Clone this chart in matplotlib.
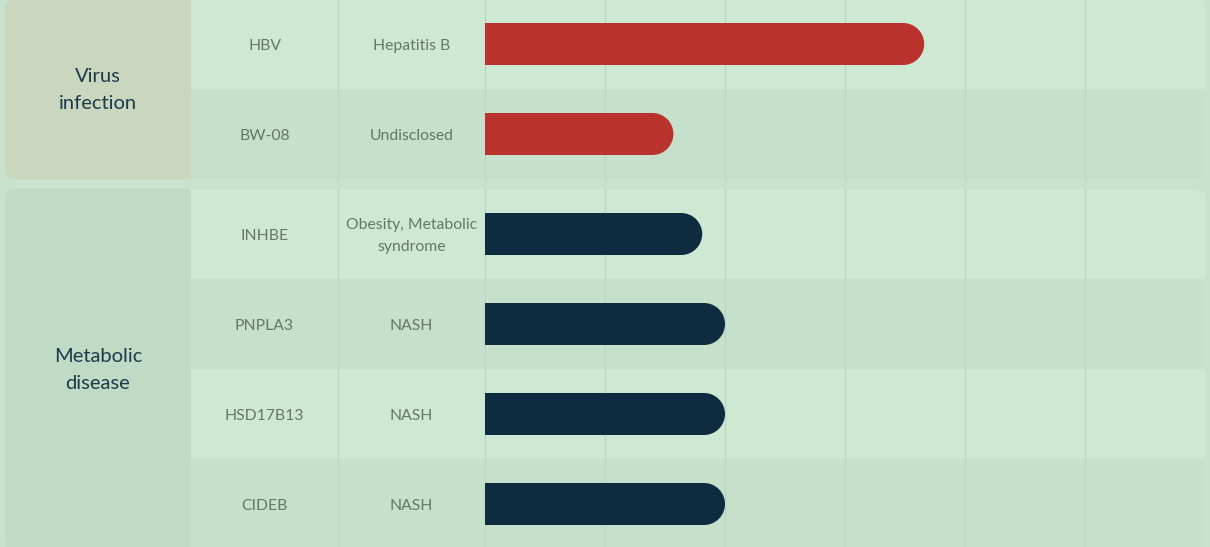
import matplotlib
matplotlib.use("Agg")
import matplotlib.pyplot as plt
from matplotlib.patches import Rectangle, FancyBboxPatch, Ellipse

plt.rcParams['font.family'] = ['Lato', 'DejaVu Sans']

# data
groups = ["Virus\ninfection", "Metabolic\ndisease"]
group_sizes = [2, 4]
targets = ["HBV", "BW-08", "INHBE", "PNPLA3", "HSD17B13", "CIDEB"]
indications = ["Hepatitis B", "Undisclosed", "Obesity, Metabolic\nsyndrome",
               "NASH", "NASH", "NASH"]
progress = [3.66, 1.57, 1.81, 2.0, 2.0, 2.0]   # in phase-column units
n_phases = 6

# colours
page_bg = "#c8e2cd"
row_light = "#cde9d4"
row_dark = "#c5e0cb"
group_bg = ["#cad6be", "#bfdac5"]
bar_col = ["#b9322b", "#0f2b40"]
grid_col = "#bcd5c1"
group_txt = "#1b3a4b"
row_txt = "#66766a"

W, H = 1210, 547
fig = plt.figure(figsize=(W / 100, H / 100), dpi=100, facecolor=page_bg)
ax = fig.add_axes([0, 0, 1, 1])
ax.set_xlim(0, W)
ax.set_ylim(H, 0)
ax.axis("off")

x0, x_grp, x_tgt, x_ind, x1 = 5, 191, 338, 485, 1205
row_h, gap, top = 90, 10, -1

# bar axes over the phase columns, same vertical pixel scale
bax = fig.add_axes([x_ind / W, 0, (x1 - x_ind) / W, 1])
bax.set_xlim(0, n_phases)
bax.set_ylim(H, 0)
bax.axis("off")
bax.patch.set_alpha(0)

bar_h = 42
rx = (bar_h / 2) / ((x1 - x_ind) / n_phases)

y = top
i = 0
for g, (gname, gsize) in enumerate(zip(groups, group_sizes)):
    gh = gsize * row_h
    panel = FancyBboxPatch((x0, y), x1 - x0, gh, boxstyle="round,pad=0,rounding_size=9",
                           fc=row_light, ec="none", zorder=1)
    ax.add_patch(panel)
    lab = Rectangle((x0, y), x_grp - x0, gh, fc=group_bg[g], ec="none", zorder=2)
    ax.add_patch(lab)
    lab.set_clip_path(panel)
    ax.text((x0 + x_grp) / 2, y + gh / 2 + 1, gname, ha="center", va="center",
            fontsize=14.5, color=group_txt, linespacing=1.75, zorder=5)
    for r in range(gsize):
        ry = y + r * row_h
        rect = Rectangle((x_grp, ry), x1 - x_grp, row_h,
                         fc=row_light if r % 2 == 0 else row_dark, ec="none", zorder=2)
        ax.add_patch(rect)
        rect.set_clip_path(panel)
        cy = ry + row_h / 2
        ax.text((x_grp + x_tgt) / 2, cy + 2, targets[i], ha="center", va="center",
                fontsize=11.3, color=row_txt, zorder=5)
        ax.text((x_tgt + x_ind) / 2, cy + 2, indications[i], ha="center", va="center",
                fontsize=11.3, color=row_txt, linespacing=1.65, zorder=5)
        # bar with rounded right end
        v = progress[i]
        bax.barh(cy, v - rx, height=bar_h, left=0, color=bar_col[g], zorder=3)
        bax.add_patch(Ellipse((v - rx, cy), 2 * rx, bar_h, fc=bar_col[g], ec="none", zorder=3))
        i += 1
    # column separators
    for xv in [x_tgt] + [x_ind + k * (x1 - x_ind) / n_phases for k in range(n_phases)]:
        ax.plot([xv, xv], [y, y + gh], color=grid_col, lw=0.9, zorder=3)
    y += gh + gap

fig.savefig("out.png", dpi=100, facecolor=page_bg)
